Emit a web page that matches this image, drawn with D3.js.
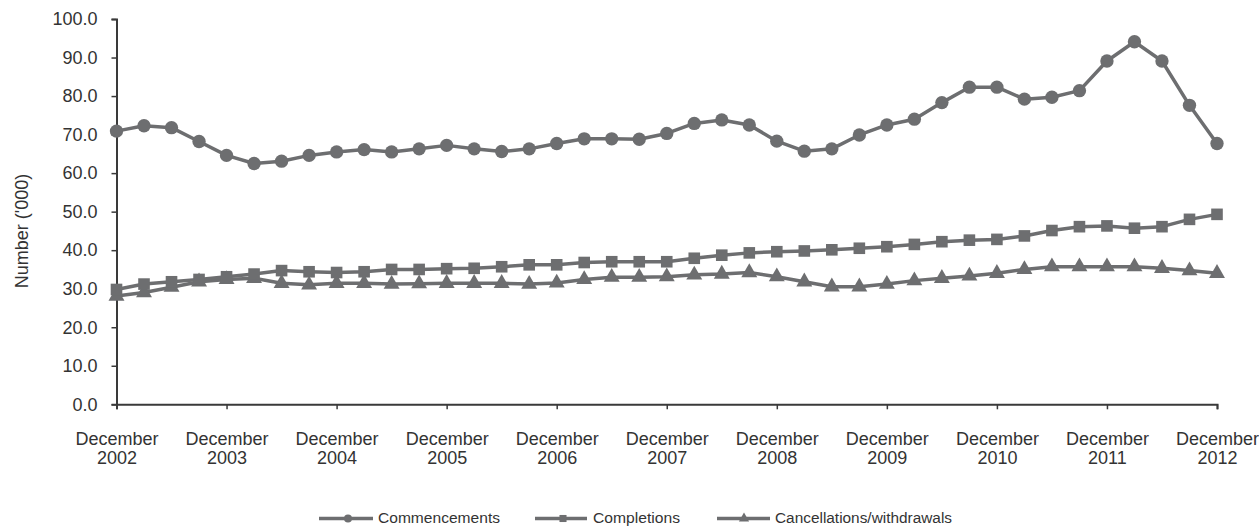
<!DOCTYPE html>
<html>
<head>
<meta charset="utf-8">
<script src="https://cdn.jsdelivr.net/npm/d3@7"></script>
<style>
  html, body { margin: 0; padding: 0; background: #fff; }
  svg { display: block; font-family: "Liberation Sans", Arial, sans-serif; }
</style>
</head>
<body>
<svg id="chart" width="1259" height="526"></svg>
<script>
const quarters = [
  "Dec 2002","Mar 2003","Jun 2003","Sep 2003","Dec 2003","Mar 2004","Jun 2004","Sep 2004",
  "Dec 2004","Mar 2005","Jun 2005","Sep 2005","Dec 2005","Mar 2006","Jun 2006","Sep 2006",
  "Dec 2006","Mar 2007","Jun 2007","Sep 2007","Dec 2007","Mar 2008","Jun 2008","Sep 2008",
  "Dec 2008","Mar 2009","Jun 2009","Sep 2009","Dec 2009","Mar 2010","Jun 2010","Sep 2010",
  "Dec 2010","Mar 2011","Jun 2011","Sep 2011","Dec 2011","Mar 2012","Jun 2012","Sep 2012",
  "Dec 2012"
];
const commencements = [
  70.9, 72.3, 71.8, 68.2, 64.6, 62.5, 63.1, 64.6, 65.5, 66.1, 65.5, 66.3, 67.2, 66.3, 65.6, 66.3,
  67.7, 68.9, 68.9, 68.8, 70.3, 72.9, 73.8, 72.5, 68.3, 65.7, 66.3, 69.9, 72.5, 74.0, 78.3, 82.3,
  82.3, 79.2, 79.7, 81.4, 89.1, 94.1, 89.1, 77.6, 67.7
];
const completions = [
  29.8, 31.2, 31.8, 32.4, 33.1, 33.8, 34.7, 34.4, 34.2, 34.4, 35.0, 35.0, 35.2, 35.3, 35.7, 36.2,
  36.2, 36.8, 37.0, 37.0, 37.0, 37.9, 38.7, 39.3, 39.6, 39.8, 40.1, 40.5, 40.9, 41.5, 42.2, 42.6,
  42.8, 43.7, 45.1, 46.1, 46.3, 45.7, 46.1, 48.0, 49.3
];
const cancellations = [
  28.1, 29.0, 30.4, 31.8, 32.4, 32.7, 31.4, 31.0, 31.4, 31.4, 31.2, 31.3, 31.4, 31.4, 31.4, 31.2,
  31.5, 32.4, 33.0, 33.0, 33.1, 33.6, 33.8, 34.2, 33.1, 31.8, 30.5, 30.5, 31.2, 32.1, 32.7, 33.3,
  34.0, 35.0, 35.7, 35.7, 35.7, 35.7, 35.3, 34.7, 34.0
];
const yTicks = [0, 10, 20, 30, 40, 50, 60, 70, 80, 90, 100];
const xTickLabels = [
  ["December","2002"],["December","2003"],["December","2004"],["December","2005"],
  ["December","2006"],["December","2007"],["December","2008"],["December","2009"],
  ["December","2010"],["December","2011"],["December","2012"]
];
const seriesNames = ["Commencements", "Completions", "Cancellations/withdrawals"];

const svg = d3.select("#chart");
const color = "#6d6e70";
const axisColor = "#3a3a3a";
const textColor = "#333";

const x = d3.scalePoint().domain(quarters).range([116.5, 1217]);
const y = d3.scaleLinear().domain([0, 100]).range([404.3, 19]);

// Y axis
const yAxis = d3.axisLeft(y).tickValues(yTicks).tickSize(5).tickPadding(14)
  .tickFormat(d3.format(".1f"));
const gy = svg.append("g").attr("transform", "translate(116.5,0)").call(yAxis);
gy.select(".domain").attr("stroke", axisColor).attr("stroke-width", 2);
gy.selectAll(".tick line").attr("stroke", axisColor).attr("stroke-width", 1.5);
gy.selectAll(".tick text").attr("fill", textColor).style("font-size", "18px")
  .style("font-family", "'Liberation Sans', Arial, sans-serif");

// X axis
const xTickQuarters = quarters.filter((q, i) => i % 4 === 0);
const xAxis = d3.axisBottom(x).tickValues(xTickQuarters).tickSize(5).tickFormat("");
const gx = svg.append("g").attr("transform", "translate(0,404.3)").call(xAxis);
gx.select(".domain").attr("stroke", axisColor).attr("stroke-width", 2);
gx.selectAll(".tick line").attr("stroke", axisColor).attr("stroke-width", 1.5);
gx.selectAll(".tick").each(function(d, i) {
  const t = d3.select(this).append("text")
    .attr("fill", textColor).attr("text-anchor", "middle")
    .style("font-size", "18px");
  t.append("tspan").attr("x", 0).attr("y", 41).text(xTickLabels[i][0]);
  t.append("tspan").attr("x", 0).attr("y", 60).text(xTickLabels[i][1]);
});

// Y axis title
svg.append("text")
  .attr("transform", "translate(28,231) rotate(-90)")
  .attr("text-anchor", "middle")
  .attr("fill", textColor)
  .style("font-size", "18px")
  .text("Number ('000)");

// Series
const series = [
  { name: seriesNames[0], values: commencements, symbol: d3.symbolCircle, size: 140, lsize: 50 },
  { name: seriesNames[1], values: completions, symbol: d3.symbolSquare, size: 135, lsize: 50 },
  { name: seriesNames[2], values: cancellations, symbol: d3.symbolTriangle, size: 110, lsize: 45 }
];

const line = d3.line().x((d, i) => x(quarters[i])).y(d => y(d));

series.slice().reverse().forEach(s => {
  const g = svg.append("g");
  g.append("path").datum(s.values)
    .attr("d", line).attr("fill", "none")
    .attr("stroke", color).attr("stroke-width", 3.5).attr("stroke-linejoin", "round");
  g.selectAll("path.m").data(s.values).enter().append("path")
    .attr("class", "m")
    .attr("transform", (d, i) => `translate(${x(quarters[i])},${y(d)})`)
    .attr("d", d3.symbol().type(s.symbol).size(s.size))
    .attr("fill", color);
});

// Legend
const legendItems = [
  { x1: 319, x2: 373, mx: 348, tx: 378, tw: 122 },
  { x1: 535, x2: 587, mx: 563, tx: 593, tw: 87 },
  { x1: 717, x2: 770, mx: 744, tx: 775, tw: 177 }
];
const ly = 518.5;
const lg = svg.append("g");
series.forEach((s, i) => {
  const it = legendItems[i];
  lg.append("line").attr("x1", it.x1).attr("x2", it.x2).attr("y1", ly).attr("y2", ly)
    .attr("stroke", color).attr("stroke-width", 3.5);
  lg.append("path").attr("transform", `translate(${it.mx},${ly})`)
    .attr("d", d3.symbol().type(s.symbol).size(s.lsize)).attr("fill", color);
  lg.append("text").attr("x", it.tx).attr("y", 522.5)
    .attr("fill", textColor).style("font-size", "15.5px")
    .attr("textLength", it.tw).attr("lengthAdjust", "spacingAndGlyphs")
    .text(s.name);
});
</script>
</body>
</html>
